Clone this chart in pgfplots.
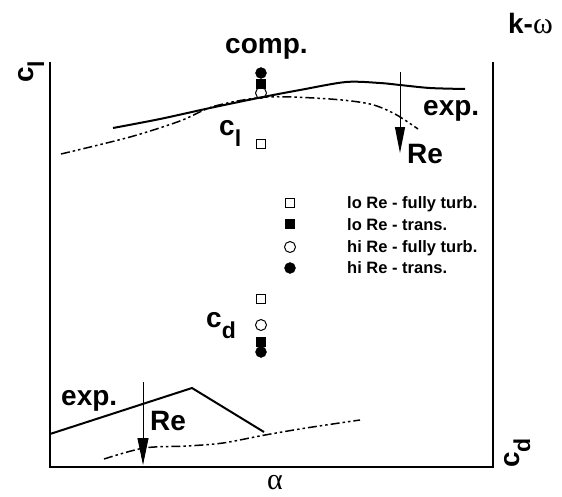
\documentclass[border=0pt]{standalone}
\usepackage{pgfplots}
\pgfplotsset{compat=1.18}
\usepackage{fontspec}
\setmainfont{Liberation Sans}
\newfontfamily\greek{Liberation Serif}
\usetikzlibrary{arrows.meta}

\newcommand\labfont{\bfseries\fontsize{28}{28}\selectfont}
\newcommand\sub[1]{\raisebox{-0.4em}{\fontsize{23}{23}\selectfont #1}}

\begin{document}
\begin{tikzpicture}[
    lab/.style={inner sep=0pt, anchor=base west, font=\labfont},
    leg/.style={inner sep=0pt, anchor=base west, font=\bfseries\fontsize{16.5}{16.5}\selectfont},
]
\begin{axis}[
    x=1pt, y=1pt, y dir=reverse, hide axis, clip=false,
    xmin=0, xmax=562, ymin=0, ymax=496,
    dashdot/.style={line width=1.5pt, dash pattern=on 9pt off 3pt on 2.5pt off 3pt on 2.5pt off 3pt},
]
    \path (0,0) rectangle (562,496);

    % frame (top left open)
    \addplot[line width=2pt, line join=miter] coordinates {(50,62)(50,467)(493,467)(493,62)};

    % lift: experiment and computation
    \addplot[line width=2pt, smooth] coordinates {
        (113,128)(160,119)(210,108)(263,97)(300,90)(346,82)(380,83)(400,85)(430,88)(465,89)};
    \addplot[dashdot, smooth] coordinates {
        (61,154)(130,137)(180,121)(215,106)(267,97)(330,99)(370,104)(395,114)(418,129)};

    % drag: experiment and computation
    \addplot[line width=2pt] coordinates {(50,434)(192,388)(264,432)};
    \addplot[dashdot, smooth] coordinates {
        (104,459)(144,448)(187,446)(223,443)(265,435)(306,428)(360,420)};

    % Re arrows
    \addplot[line width=1pt, -{Triangle[length=26pt,width=10pt]}] coordinates {(400,72)(400,153)};
    \addplot[line width=1pt, -{Triangle[length=27pt,width=11pt]}] coordinates {(143,382)(143,465)};

    % computed points: lift
    \addplot[only marks, mark=*, mark size=5.5pt] coordinates {(261,73)};
    \addplot[only marks, mark=square*, mark size=4.5pt] coordinates {(261,84)};
    \addplot[only marks, mark=o, mark size=5.5pt, mark options={line width=1pt, fill=white}] coordinates {(261,93)};
    \addplot[only marks, mark=square, mark size=4.5pt, mark options={line width=1pt}] coordinates {(261,143.5)};

    % computed points: drag
    \addplot[only marks, mark=square, mark size=4.5pt, mark options={line width=1pt}] coordinates {(261,299)};
    \addplot[only marks, mark=o, mark size=5.5pt, mark options={line width=1pt}] coordinates {(261,325)};
    \addplot[only marks, mark=square*, mark size=4.5pt] coordinates {(261,342)};
    \addplot[only marks, mark=*, mark size=5.5pt] coordinates {(261,352)};

    % legend markers
    \addplot[only marks, mark=square, mark size=4.5pt, mark options={line width=1pt}] coordinates {(290,203)};
    \addplot[only marks, mark=square*, mark size=4.5pt] coordinates {(290,224)};
    \addplot[only marks, mark=o, mark size=5.5pt, mark options={line width=1pt}] coordinates {(290,247)};
    \addplot[only marks, mark=*, mark size=5.5pt] coordinates {(290,268)};

    \node[leg] at (347,208) {lo Re - fully turb.};
    \node[leg] at (347,230) {lo Re - trans.};
    \node[leg] at (347,252) {hi Re - fully turb.};
    \node[leg] at (347,273) {hi Re - trans.};

    % labels
    \node[lab] at (225,53) {comp.};
    \node[lab] at (423,115) {exp.};
    \node[lab] at (407,163) {Re};
    \node[lab] at (61,405) {exp.};
    \node[lab] at (150,430) {Re};
    \node[lab] at (219,135) {c\sub{l}};
    \node[lab] at (206,327) {c\sub{d}};
    \node[lab, rotate=90] at (33,83) {c\sub{l}};
    \node[lab, rotate=90] at (519,468) {c\sub{d}};
    \node[lab, anchor=base east] at (553,33) {k-{\greek\mdseries\fontsize{30}{30}\selectfont ω}};
    \node[lab, anchor=base] at (275,489) {\greek\mdseries\fontsize{30}{30}\selectfont α};
\end{axis}
\end{tikzpicture}
\end{document}
